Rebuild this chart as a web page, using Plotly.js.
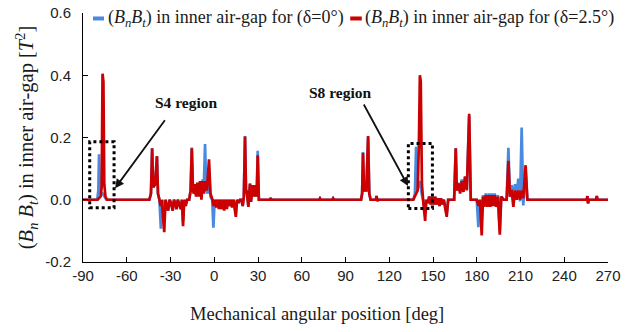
<!DOCTYPE html>
<html>
<head>
<meta charset="utf-8">
<script src="https://cdn.plot.ly/plotly-3.0.1.min.js"></script>
<style>
  html, body { margin: 0; padding: 0; background: #fff; }
  #chart { width: 634px; height: 332px; }
</style>
</head>
<body>
<div id="chart"></div>
<script>
// (Bn·Bt) product in the inner air-gap versus mechanical angle, [deg, T^2]
// Eccentricity delta = 0 deg
const bluePts = [
  [-90,0],[-80.2,0],[-79.5,0.03],[-79.0,0.146],[-78.4,0.03],[-77.5,0.015],[-76.5,0.02],[-75.5,0.01],[-74.0,0],
  [-44.5,0],[-43.4,0.02],[-42.6,0.165],[-41.9,0.04],[-40.5,0.05],[-39.3,0.14],[-38.6,0.02],[-37.6,0],
  [-36.6,-0.093],[-35.6,0],[-34.4,-0.03],[-33.4,0],[-32.6,-0.02],[-31.6,-0.035],[-30.6,0],[-29.6,-0.01],
  [-28.5,-0.035],[-27.6,0],[-26.8,-0.01],[-25.8,-0.03],[-25.0,0],[-24.2,-0.01],[-22.9,-0.03],[-22.2,0],
  [-21.4,-0.07],[-20.6,0],[-19.6,-0.02],[-18.6,0],[-17.2,0],
  [-16.2,0.03],[-15.4,0.168],[-14.6,0.03],[-14.0,0.03],[-13.4,0.045],[-12.5,0.035],[-11.6,0.05],[-10.7,0.04],
  [-9.75,0.055],[-8.8,0.045],[-7.9,0.065],[-7.1,0.05],[-6.3,0.179],[-5.5,0.03],[-4.5,0.02],[-3.6,0.1],
  [-2.6,0.01],[-1.4,0],[-0.6,-0.09],[0.3,0],
  [1.4,-0.02],[2.3,0],[3.2,-0.025],[4.1,0],[5.0,-0.03],[5.9,0],[6.8,-0.03],[7.7,0],[8.6,-0.025],[9.5,0],
  [10.4,-0.02],[11.3,0],[12.2,-0.02],[13.2,0],[14.8,-0.045],[15.6,0],[16.6,-0.01],[17.7,0],[18.7,0],
  [19.5,-0.02],[20.3,0.01],[21.1,0.205],[21.8,0.02],[22.2,0.03],[23.4,-0.02],[24.5,0.052],[25.2,-0.005],
  [26.4,0.047],[27.3,0.01],[28.2,0.047],[29.1,0.01],[29.8,0.157],[30.6,0],
  [38.3,0],[38.7,0.006],[39.1,0],[72.0,0],[72.5,0.004],[73.0,0],[81.0,0],[81.5,0.004],[82.0,0],
  [100.7,0],[101.4,0.02],[102.0,0.153],[102.7,0.03],[104.3,0.03],[105.5,0.2],[106.3,0.02],[107.2,0],
  [110.8,0],[111.3,0.012],[111.8,-0.004],[112.4,0],
  [136.5,0],[137.6,0.02],[138.4,0.17],[139.2,0.03],[140.4,0.05],[141.2,0.06],[142.2,0.02],[143.2,0],
  [144.6,-0.04],[145.4,0],[146.5,-0.01],[147.4,0.01],[148.5,-0.015],[149.5,0.01],[150.5,-0.015],[151.5,0.01],
  [152.5,-0.015],[153.5,0.005],[154.5,-0.02],[155.4,0.005],[156.4,-0.015],[157.4,0],[159.4,-0.045],[160.4,0],
  [164.5,0],[165.6,0.165],[166.3,0.03],[167.4,0.055],[168.6,0.025],[169.7,0.065],[170.9,0.03],[172.0,0.075],
  [173.2,0.035],[174.8,0.27],[175.9,0],
  [180.0,0],[181.1,-0.088],[182.0,0],[183.4,-0.06],[184.3,0.015],[185.2,-0.015],[186.2,0.02],[187.3,-0.015],
  [188.3,0.02],[189.3,-0.015],[190.3,0.02],[191.3,-0.012],[192.3,0.02],[193.3,-0.015],[194.5,0.015],
  [195.8,-0.1],[196.8,0.01],[198.5,0],
  [200.5,0],[201.7,0.167],[202.8,0.01],[203.9,0.047],[205.1,0],[206.2,0.05],[207.4,0.02],[208.5,0.068],
  [209.7,-0.005],[210.8,0.232],[211.9,-0.018],[213.5,0.1],[214.7,0],
  [255.4,0],[255.9,0.012],[256.3,-0.012],[256.8,0],[261.8,0],[262.3,0.012],[262.8,0],[270,0]
];

// Eccentricity delta = 2.5 deg
const redPts = [
  [-90,0],[-80,0],[-78,0.01],[-77.2,0.04],[-76.6,0.405],[-76.0,0.38],[-75.4,0.05],[-74.6,0.01],[-73.5,0],
  [-44.5,0],[-43.4,0.02],[-42.6,0.165],[-41.9,0.04],[-40.5,0.05],[-39.3,0.14],[-38.6,0.02],[-37.6,0],
  [-36.8,-0.02],[-36.0,0],[-34.3,-0.104],[-33.4,0],[-32.6,-0.02],[-31.6,-0.035],[-30.6,0],[-29.6,-0.01],
  [-28.5,-0.035],[-27.6,0],[-26.8,-0.01],[-25.8,-0.03],[-25.0,0],[-24.2,-0.01],[-22.9,-0.03],[-22.2,0],
  [-21.4,-0.085],[-20.6,0],[-19.6,-0.02],[-18.6,0],[-17.2,0],
  [-16.2,0.03],[-15.4,0.165],[-14.6,0.03],[-14.0,0.02],[-13.4,0.05],[-12.5,0.01],[-11.6,0.055],[-10.7,0.01],
  [-9.75,0.06],[-8.8,0],[-7.9,0.06],[-7.1,0.02],[-6.3,0.06],[-5.0,0.03],[-3.6,0.13],[-2.6,0.02],
  [-1.2,0],[-0.4,-0.02],
  [0.6,0],[1.4,-0.025],[2.3,0],[3.2,-0.03],[4.1,0],[5.0,-0.03],[5.9,0],[6.8,-0.035],[7.7,0],[8.6,-0.03],
  [9.5,0],[10.4,-0.02],[11.3,0],[12.2,-0.025],[13.2,0],[14.8,-0.055],[15.6,0],[16.6,-0.01],[17.7,0],[18.7,0],
  [19.5,-0.02],[20.3,0.01],[21.1,0.203],[21.8,0.02],[22.2,0.03],[23.4,-0.023],[24.5,0.052],[25.2,-0.007],
  [26.4,0.047],[27.3,0.01],[28.2,0.047],[29.1,0.01],[29.8,0.143],[30.6,0],
  [38.3,0],[38.7,0.006],[39.1,0],[72.0,0],[72.5,0.004],[73.0,0],[81.0,0],[81.5,0.004],[82.0,0],
  [100.7,0],[101.4,0.02],[102.0,0.15],[102.7,0.03],[104.3,0.03],[105.5,0.205],[106.3,0.02],[107.2,0],
  [110.8,0],[111.3,0.012],[111.8,-0.004],[112.4,0],
  [136.5,0],[137.6,0.01],[139.5,0.03],[140.4,0.2],[141.0,0.40],[141.6,0.38],[142.4,0.05],[143.2,0],
  [144.6,-0.068],[145.4,0],[146.5,-0.01],[147.4,0.01],[148.5,-0.015],[149.5,0.01],[150.5,-0.015],[151.5,0.01],
  [152.5,-0.015],[153.5,0.005],[154.5,-0.02],[155.4,0.005],[156.4,-0.015],[157.4,0],[159.4,-0.055],[160.4,0],
  [164.5,0],[165.6,0.165],[166.3,0.03],[167.4,0.052],[168.6,0.02],[169.7,0.06],[170.9,0.025],[172.0,0.074],
  [173.2,0.03],[174.8,0.276],[175.9,0],
  [180.0,0],[181.2,-0.02],[182.2,0],[183.4,-0.115],[184.3,0.01],[185.2,-0.023],[186.2,0.015],[187.3,-0.023],
  [188.3,0.015],[189.3,-0.023],[190.3,0.015],[191.3,-0.02],[192.3,0.015],[193.3,-0.023],[194.5,0.01],
  [195.8,-0.112],[196.8,0.01],[198.5,0],
  [200.5,0],[201.7,0.125],[202.8,0.01],[203.9,0.032],[205.1,-0.023],[206.2,0.03],[207.4,0],[208.5,0.03],
  [209.7,0],[210.8,0.03],[211.9,0.005],[213.5,0.111],[214.7,0],
  [255.4,0],[255.9,0.012],[256.3,-0.012],[256.8,0],[261.8,0],[262.3,0.012],[262.8,0],[270,0]
];

const xTickVals = [-90, -60, -30, 0, 30, 60, 90, 120, 150, 180, 210, 240, 270];
const xTickText = ['-90', '-60', '-30', '0', '30', '60', '90', '120', '150', '180', '210', '240', '270'];
const yTickVals = [-0.2, 0, 0.2, 0.4, 0.6];
const yTickText = ['-0.2', '0.0', '0.2', '0.4', '0.6'];

const seriesNames = [
  '(<i>B</i><sub><i>n</i></sub><i>B</i><sub><i>t</i></sub>) in inner air-gap for (δ=0°)',
  '(<i>B</i><sub><i>n</i></sub><i>B</i><sub><i>t</i></sub>) in inner air-gap for (δ=2.5°)'
];
const seriesColors = ['#4a89e0', '#cc0000'];
const xTitle = 'Mechanical angular position [deg]';
const yTitle = '(<i>B</i><sub><i>n</i></sub> <i>B</i><sub><i>t</i></sub>) in inner air-gap [<i>T</i><sup>2</sup>]';

const SERIF = 'Liberation Serif, Times New Roman, serif';
const SANS = 'Liberation Sans, Arial, sans-serif';

const traces = [bluePts, redPts].map((pts, i) => ({
  type: 'scatter',
  mode: 'lines',
  name: seriesNames[i],
  x: pts.map(p => p[0]),
  y: pts.map(p => p[1]),
  line: { color: seriesColors[i], width: 2.7 },
  hoverinfo: 'skip'
}));

// legend row drawn as swatch + label pairs above the curves
const legendRow = [
  { x0: 0.019, x1: 0.040, tx: 0.043 },
  { x0: 0.509, x1: 0.531, tx: 0.534 }
];

const shapes = legendRow.map((r, i) => ({
  type: 'line', xref: 'paper', yref: 'paper',
  x0: r.x0, x1: r.x1, y0: 0.978, y1: 0.978,
  line: { color: seriesColors[i], width: 4 }
}));

// dotted boxes around the S4 and S8 zones
shapes.push(
  { type: 'rect', xref: 'x', yref: 'y', x0: -85.4, x1: -68.7, y0: -0.026, y1: 0.186,
    line: { color: '#000', width: 3, dash: 'dot' } },
  { type: 'rect', xref: 'x', yref: 'y', x0: 133.1, x1: 149.6, y0: -0.028, y1: 0.181,
    line: { color: '#000', width: 3, dash: 'dot' } }
);

const annotations = legendRow.map((r, i) => ({
  xref: 'paper', yref: 'paper', x: r.tx, y: 0.978,
  xanchor: 'left', yanchor: 'middle', showarrow: false,
  text: seriesNames[i],
  font: { family: SERIF, size: 18, color: '#1a1a1a' }
}));

annotations.push(
  { xref: 'x', yref: 'y', x: -18.7, y: 0.311, showarrow: false,
    text: '<b>S4 region</b>', font: { family: SERIF, size: 15.5, color: '#111' } },
  { xref: 'x', yref: 'y', x: 86.3, y: 0.343, showarrow: false,
    text: '<b>S8 region</b>', font: { family: SERIF, size: 15.5, color: '#111' } },
  { xref: 'x', yref: 'y', x: -68.0, y: 0.037, axref: 'x', ayref: 'y', ax: -33.1, ay: 0.26,
    text: '', showarrow: true, arrowhead: 2, arrowsize: 1, arrowwidth: 1.8, arrowcolor: '#111', standoff: 0 },
  { xref: 'x', yref: 'y', x: 132.9, y: 0.044, axref: 'x', ayref: 'y', ax: 102.0, ay: 0.311,
    text: '', showarrow: true, arrowhead: 2, arrowsize: 1, arrowwidth: 1.8, arrowcolor: '#111', standoff: 0 },
  // horizontal axis caption, centred on the figure rather than the plot area
  { xref: 'paper', yref: 'paper', x: 0.446, y: -0.209, xanchor: 'center', yanchor: 'middle',
    showarrow: false, text: xTitle, font: { family: SERIF, size: 18.5, color: '#1a1a1a' } }
);

const axisCommon = {
  ticks: 'inside', ticklen: 5, tickwidth: 1, tickcolor: '#000',
  showline: true, linecolor: '#000', linewidth: 1,
  showgrid: false, zeroline: false,
  tickfont: { family: SANS, size: 15, color: '#222' }
};

const layout = {
  width: 634, height: 332,
  margin: { l: 83, r: 26, t: 13, b: 70 },
  paper_bgcolor: '#fff', plot_bgcolor: '#fff',
  showlegend: false,
  xaxis: Object.assign({}, axisCommon, {
    range: [-90, 270], tickmode: 'array', tickvals: xTickVals, ticktext: xTickText
  }),
  yaxis: Object.assign({}, axisCommon, {
    range: [-0.2, 0.6], tickmode: 'array', tickvals: yTickVals, ticktext: yTickText,
    ticklabelstandoff: 8,
    title: { text: yTitle, font: { family: SERIF, size: 20.5, color: '#1a1a1a' }, standoff: 5 }
  }),
  shapes: shapes,
  annotations: annotations
};

Plotly.newPlot('chart', traces, layout, { staticPlot: true, displayModeBar: false });
</script>
</body>
</html>
